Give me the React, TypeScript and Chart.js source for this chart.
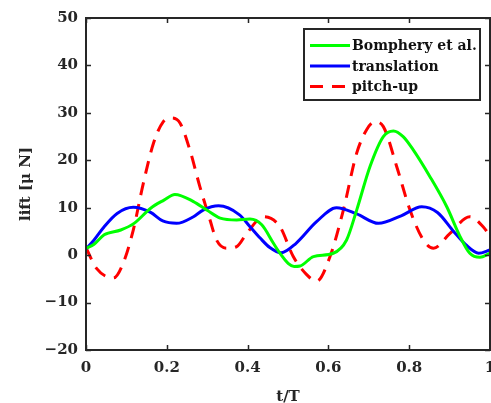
import React, { useEffect, useRef } from "react";
import { Chart, registerables } from "chart.js";

Chart.register(...registerables);

// ---- data ----
const seriesLabels = ["Bomphery et al.", "translation", "pitch-up"];

const tBomphery = [0, 0.02, 0.045, 0.086, 0.119, 0.16, 0.193, 0.22, 0.266, 0.299, 0.332, 0.373, 0.406, 0.435, 0.464, 0.48, 0.501, 0.515, 0.53, 0.563, 0.612, 0.645, 0.67, 0.703, 0.736, 0.761, 0.785, 0.81, 0.851, 0.893, 0.926, 0.95, 0.975, 1];
const liftBomphery = [1.4, 2.3, 4.3, 5.3, 6.7, 9.9, 11.6, 12.8, 11.3, 9.5, 7.8, 7.4, 7.6, 6.4, 2.5, 0.4, -1.8, -2.4, -2.3, -0.3, 0.4, 3.2, 9.5, 18.7, 25.0, 26.2, 25.0, 22.2, 16.6, 10.2, 3.9, 0.4, -0.45, 0.4];

const tTranslation = [0, 0.02, 0.045, 0.077, 0.117, 0.16, 0.19, 0.224, 0.266, 0.29, 0.328, 0.38, 0.406, 0.431, 0.455, 0.483, 0.52, 0.57, 0.62, 0.67, 0.724, 0.78, 0.831, 0.87, 0.91, 0.94, 0.972, 1];
const liftTranslation = [1.3, 3.2, 6.0, 8.8, 10.1, 9.0, 7.2, 6.7, 8.1, 9.5, 10.4, 8.5, 6.0, 3.6, 1.6, 0.5, 2.5, 7.0, 10.0, 8.7, 6.7, 8.3, 10.2, 9.0, 5.0, 2.2, 0.4, 1.1];

const tPitchUp = [0, 0.026, 0.068, 0.092, 0.117, 0.142, 0.167, 0.191, 0.212, 0.233, 0.257, 0.282, 0.307, 0.323, 0.348, 0.373, 0.398, 0.439, 0.48, 0.513, 0.545, 0.571, 0.604, 0.637, 0.67, 0.695, 0.715, 0.736, 0.769, 0.802, 0.835, 0.86, 0.901, 0.95, 0.983, 1];
const liftPitchUp = [1.6, -2.8, -4.8, -1.7, 5.3, 15.2, 23.6, 28.1, 28.9, 27.8, 22.2, 14.4, 7.4, 3.2, 1.45, 1.8, 4.6, 8.1, 6.0, -0.3, -4.0, -5.5, -0.3, 9.5, 21.5, 26.5, 28.1, 27.1, 18.7, 9.5, 3.2, 1.45, 4.6, 8.1, 6.0, 4.0];

const xTicks = [0, 0.2, 0.4, 0.6, 0.8, 1];
const xTickLabels = ["0", "0.2", "0.4", "0.6", "0.8", "1"];
const yMin = -20;
const yMax = 50;
const yStep = 10;
const xTitle = "t/T";
const yTitle = "lift [μ N]";

const AXIS_COLOR = "#262626";
const FONT = "'DejaVu Serif', serif";

function pts(xs: number[], ys: number[]) {
  return xs.map((x, i) => ({ x, y: ys[i] }));
}

const framePlugin = {
  id: "matlabFrame",
  afterDatasetsDraw(chart: any) {
    const { ctx, chartArea: a, scales } = chart;
    const xs = scales.x;
    const ys = scales.y;
    ctx.save();
    ctx.strokeStyle = AXIS_COLOR;
    ctx.lineWidth = 1.5;
    const tl = 5;
    ctx.beginPath();
    for (let v = yMin; v <= yMax; v += yStep) {
      const py = Math.round(ys.getPixelForValue(v)) + 0.5;
      ctx.moveTo(a.left, py);
      ctx.lineTo(a.left + tl, py);
      ctx.moveTo(a.right, py);
      ctx.lineTo(a.right - tl, py);
    }
    for (const v of xTicks) {
      const px = Math.round(xs.getPixelForValue(v)) + 0.5;
      ctx.moveTo(px, a.bottom);
      ctx.lineTo(px, a.bottom - tl);
      ctx.moveTo(px, a.top);
      ctx.lineTo(px, a.top + tl);
    }
    ctx.stroke();
    ctx.lineWidth = 2;
    ctx.strokeRect(a.left, a.top, a.right - a.left, a.bottom - a.top);

    // x tick labels & title
    ctx.fillStyle = AXIS_COLOR;
    ctx.font = `bold 15px ${FONT}`;
    ctx.textAlign = "center";
    ctx.textBaseline = "middle";
    xTicks.forEach((v, i) => {
      ctx.fillText(xTickLabels[i], xs.getPixelForValue(v), a.bottom + 18);
    });
    ctx.fillText(xTitle, (a.left + a.right) / 2, a.bottom + 47);

    // legend
    const bx = a.right - 186;
    const by = a.top + 11;
    const bw = 176;
    const bh = 71;
    ctx.fillStyle = "#ffffff";
    ctx.fillRect(bx, by, bw, bh);
    ctx.lineWidth = 2;
    ctx.strokeStyle = AXIS_COLOR;
    ctx.strokeRect(bx, by, bw, bh);
    ctx.font = `bold 14px ${FONT}`;
    ctx.textAlign = "left";
    ctx.textBaseline = "middle";
    chart.data.datasets.forEach((ds: any, i: number) => {
      const ry = by + 16.5 + i * 20.5;
      ctx.save();
      ctx.strokeStyle = ds.borderColor;
      ctx.lineWidth = ds.borderWidth;
      ctx.setLineDash(ds.borderDash || []);
      ctx.beginPath();
      ctx.moveTo(bx + 6, ry);
      ctx.lineTo(bx + 46, ry);
      ctx.stroke();
      ctx.restore();
      ctx.fillStyle = "#111111";
      ctx.fillText(ds.label, bx + 48, ry + 1);
    });
    ctx.restore();
  },
};

export default function App() {
  const ref = useRef<HTMLCanvasElement | null>(null);
  useEffect(() => {
    if (!ref.current) return;
    const chart = new Chart(ref.current, {
      type: "line",
      data: {
        datasets: [
          {
            label: seriesLabels[0],
            data: pts(tBomphery, liftBomphery),
            borderColor: "#00ff00",
            borderWidth: 3,
            pointRadius: 0,
            cubicInterpolationMode: "monotone",
            fill: false,
          },
          {
            label: seriesLabels[1],
            data: pts(tTranslation, liftTranslation),
            borderColor: "#0000ff",
            borderWidth: 3,
            pointRadius: 0,
            cubicInterpolationMode: "monotone",
            fill: false,
          },
          {
            label: seriesLabels[2],
            data: pts(tPitchUp, liftPitchUp),
            borderColor: "#ff0000",
            borderWidth: 3,
            borderDash: [13, 9],
            pointRadius: 0,
            cubicInterpolationMode: "monotone",
            fill: false,
          },
        ],
      },
      options: {
        responsive: false,
        animation: false,
        devicePixelRatio: 1,
        layout: { padding: { top: 18, right: 1, left: 0, bottom: 0 } },
        plugins: { legend: { display: false }, tooltip: { enabled: false } },
        scales: {
          x: {
            type: "linear",
            min: 0,
            max: 1,
            grid: { display: false, drawTicks: false },
            border: { display: false },
            ticks: { display: false },
            afterFit(scale: any) {
              scale.height = 53;
            },
          },
          y: {
            type: "linear",
            min: yMin,
            max: yMax,
            grid: { display: false, drawTicks: false },
            border: { display: false },
            ticks: {
              stepSize: yStep,
              padding: 8,
              color: AXIS_COLOR,
              font: { family: FONT, size: 15, weight: "bold" },
              callback: (v: any) => (v < 0 ? "\u2212" + Math.abs(v) : String(v)),
            },
            title: {
              display: true,
              text: yTitle,
              color: AXIS_COLOR,
              font: { family: FONT, size: 15, weight: "bold" },
              padding: { top: 17, bottom: 0 },
            },
            afterFit(scale: any) {
              scale.width = 86;
            },
          },
        },
      },
      plugins: [framePlugin],
    });
    return () => chart.destroy();
  }, []);
  return (
    <div style={{ position: "absolute", left: 0, top: 0, width: 491, height: 403, background: "#fff" }}>
      <canvas ref={ref} width={491} height={403} style={{ display: "block" }} />
    </div>
  );
}
